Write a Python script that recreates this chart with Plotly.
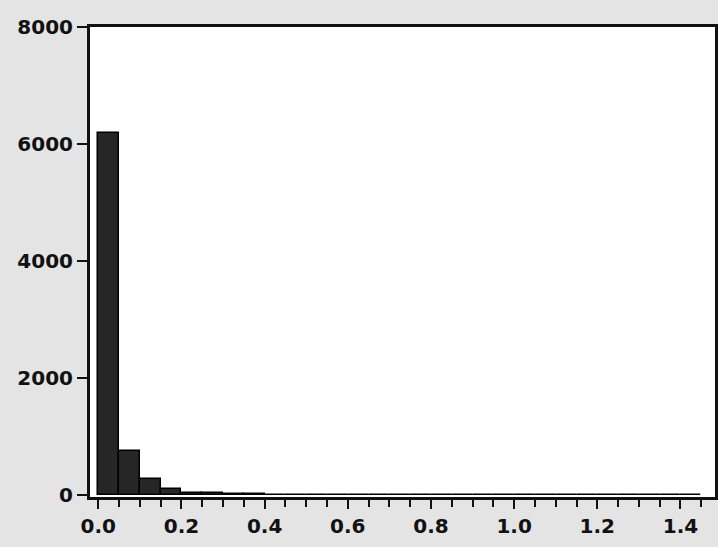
import plotly.graph_objects as go

bin_starts = [0.00, 0.05, 0.10, 0.15, 0.20, 0.25, 0.30, 0.35, 0.40, 0.45, 0.50, 0.55,
              0.60, 0.65, 0.70, 0.75, 0.80, 0.85, 0.90, 0.95, 1.00, 1.05, 1.10, 1.15,
              1.20, 1.25, 1.30, 1.35, 1.40]
counts = [6190, 750, 275, 110, 45, 35, 22, 14, 10, 8, 7, 6,
          5, 4, 4, 3, 3, 3, 2, 2, 2, 2, 1, 1,
          1, 1, 1, 1, 1]
bin_width = 0.05
x_ticks = [0.0, 0.2, 0.4, 0.6, 0.8, 1.0, 1.2, 1.4]
y_ticks = [0, 2000, 4000, 6000, 8000]

fig = go.Figure()
fig.add_trace(go.Bar(
    x=bin_starts, y=counts, width=[bin_width] * len(bin_starts), offset=0,
    marker=dict(color="#262626", line=dict(color="#000000", width=1.5)),
))

tick_font = dict(family="DejaVu Sans", size=20, color="#111", weight="bold")
fig.update_layout(
    width=718, height=547,
    margin=dict(l=90, r=3, t=27, b=50),
    paper_bgcolor="#e4e4e4", plot_bgcolor="#ffffff",
    showlegend=False, bargap=0,
    xaxis=dict(range=[-0.02, 1.483], tickvals=x_ticks,
               ticktext=[f"{v:.1f}" for v in x_ticks],
               ticks="outside", ticklen=9, tickwidth=2, tickcolor="#111",
               minor=dict(dtick=0.05, tick0=0, ticks="outside", ticklen=7, tickwidth=2, tickcolor="#111"),
               showline=True, linecolor="#111", linewidth=3, mirror=True,
               showgrid=False, zeroline=False, automargin=False, tickfont=tick_font),
    yaxis=dict(range=[-30, 8000], tickvals=y_ticks,
               ticks="outside", ticklen=10, tickwidth=2, tickcolor="#111",
               showline=True, linecolor="#111", linewidth=3, mirror=True,
               showgrid=False, zeroline=False, automargin=False, tickfont=tick_font),
)
fig.write_html("out.html", config={"displayModeBar": False},
               post_script="document.body.style.margin='0';")
